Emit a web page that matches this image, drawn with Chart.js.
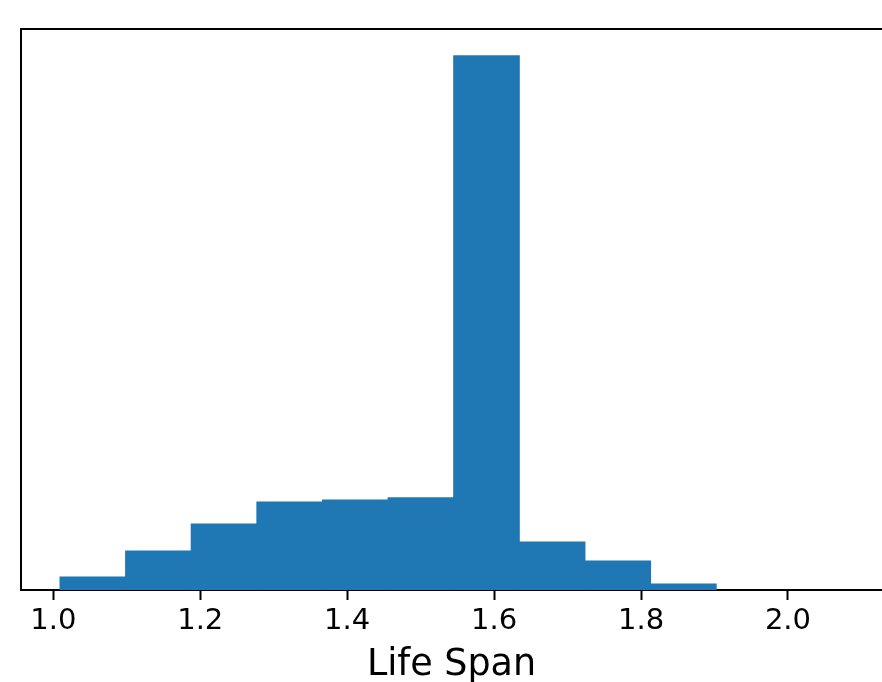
<!DOCTYPE html>
<html>
<head>
<meta charset="utf-8">
<script src="https://cdn.jsdelivr.net/npm/chart.js@4/dist/chart.umd.min.js"></script>
<style>
  html, body { margin: 0; padding: 0; background: #fff; overflow: hidden; }
  #wrap { width: 882px; height: 682px; overflow: hidden; position: relative; }
  canvas { display: block; }
</style>
</head>
<body>
<div id="wrap"><canvas id="c" width="882" height="687"></canvas></div>
<script>
// Histogram of "Life Span": bin edges and bar heights (relative counts)
const binEdges = [1.0091, 1.0984, 1.1877, 1.2770, 1.3664, 1.4557, 1.5450, 1.6343, 1.7237, 1.8130, 1.9023];
const counts   = [13, 39, 66, 88, 90, 92.3, 534, 48, 29, 6];
const xTickValues = [1.0, 1.2, 1.4, 1.6, 1.8, 2.0];
const xAxisTitle = 'Life Span';
const xRange = [0.956, 2.128];
const yMax = 561;

const points = counts.map((c, i) => ({ x: (binEdges[i] + binEdges[i + 1]) / 2, y: c }));

const FONT = "'DejaVu Sans', sans-serif";

new Chart(document.getElementById('c'), {
  type: 'bar',
  data: {
    datasets: [{
      data: points,
      backgroundColor: '#1f77b4',
      borderWidth: 0,
      inflateAmount: 0.5,
      barPercentage: 1.0,
      categoryPercentage: 1.0,
      grouped: false
    }]
  },
  options: {
    responsive: false,
    animation: false,
    events: [],
    layout: { padding: { left: 21, right: 0, top: 28.7, bottom: 0 } },
    plugins: { legend: { display: false }, tooltip: { enabled: false } },
    scales: {
      x: {
        type: 'linear',
        position: 'bottom',
        offset: false,
        min: xRange[0],
        max: xRange[1],
        afterBuildTicks: (scale) => { scale.ticks = xTickValues.map(v => ({ value: v })); },
        afterFit: (scale) => { scale.height = 97; },
        ticks: {
          includeBounds: false,
          color: '#000',
          font: { family: FONT, size: 29 },
          padding: 4,
          maxRotation: 0,
          autoSkip: false,
          callback: (v) => Number(v).toFixed(1)
        },
        grid: { display: true, offset: false, drawOnChartArea: false, drawTicks: true, tickLength: 10, tickWidth: 2, tickColor: '#000' },
        border: { display: true, color: '#000', width: 2 },
        title: {
          display: true,
          text: xAxisTitle,
          color: '#000',
          font: { family: FONT, size: 36.5 },
          padding: { top: 4, bottom: 0 }
        }
      },
      xTop: {
        type: 'linear',
        position: 'top',
        offset: false,
        min: xRange[0],
        max: xRange[1],
        ticks: { display: false },
        grid: { display: false, drawTicks: false },
        border: { display: true, color: '#000', width: 2 }
      },
      y: {
        min: 0,
        max: yMax,
        ticks: { display: false },
        grid: { display: false, drawTicks: false },
        border: { display: true, color: '#000', width: 2 }
      }
    }
  }
});
</script>
</body>
</html>
